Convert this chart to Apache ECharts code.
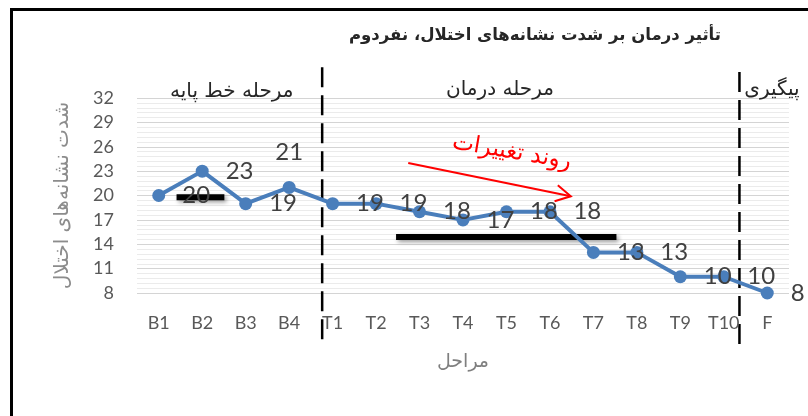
<!DOCTYPE html>
<html>
<head>
<meta charset="utf-8">
<script src="https://cdn.jsdelivr.net/npm/echarts@6/dist/echarts.min.js"></script>
<style>
  html, body { margin: 0; padding: 0; background: #fff; }
  #chart { width: 808px; height: 416px; }
</style>
</head>
<body>
<div id="chart"></div>
<script>
const stages = ['B1', 'B2', 'B3', 'B4', 'T1', 'T2', 'T3', 'T4', 'T5', 'T6', 'T7', 'T8', 'T9', 'T10', 'F'];
const severity = [20, 23, 19, 21, 19, 19, 18, 17, 18, 18, 13, 13, 10, 10, 8];
const yMin = 8;
const yMax = 32;
const yStep = 3;

const titleText = 'تأثیر درمان بر شدت نشانه‌های اختلال، نفردوم';
const yName = 'شدت نشانه‌های اختلال';
const xName = 'مراحل';
const phaseNames = ['مرحله خط پایه', 'مرحله درمان', 'پیگیری'];
const trendText = 'روند تغییرات';

// annotations in (category index, value) units
const phaseLabelAt = [[1.68, 32.8], [7.85, 33.0], [13.47, 33.0]];
const phaseDividers = [[3.76, 35.8, 2.0], [13.36, 35.2, 1.35]];
const baselineBar = [[0.41, 19.8], [1.51, 19.8]];
const treatmentBar = [[5.46, 14.9], [10.53, 14.9]];
const trendArrow = [[5.74, 24.0], [9.48, 19.9]];
const trendTextAt = [8.12, 25.3];

const option = {
  backgroundColor: '#fff',
  animation: false,
  grid: {
    left: 137,
    right: 19,
    top: 98,
    bottom: 123
  },
  xAxis: [
    {
      type: 'category',
      data: stages,
      boundaryGap: true,
      axisLine: { show: false },
      axisTick: { show: false },
      axisLabel: {
        fontSize: 18,
        color: '#595959',
        fontFamily: 'Lato',
        margin: 21
      },
      name: xName,
      nameLocation: 'middle',
      nameGap: 60,
      nameTextStyle: {
        fontSize: 19,
        color: '#7f7f7f',
        fontFamily: 'DejaVu Sans'
      }
    },
    {
      type: 'value',
      min: -0.5,
      max: 14.5,
      show: false
    }
  ],
  yAxis: {
    type: 'value',
    min: yMin,
    max: yMax,
    interval: yStep,
    axisLine: { show: false },
    axisTick: { show: false },
    axisLabel: {
      fontSize: 18,
      color: '#595959',
      fontFamily: 'Lato',
      margin: 23
    },
    splitLine: { lineStyle: { color: '#d4d4d4', width: 1 } },
    minorTick: { show: false, splitNumber: 5 },
    minorSplitLine: { show: true, lineStyle: { color: '#ebebeb', width: 1 } },
    name: yName,
    nameLocation: 'middle',
    nameGap: 64,
    nameTextStyle: {
      fontSize: 20,
      color: '#8c8c8c',
      fontFamily: 'DejaVu Sans'
    }
  },
  series: [
    {
      type: 'line',
      z: 2,
      data: severity.map((v, i) => i === 3 ? { value: v, label: { position: 'top' } } : v),
      symbol: 'circle',
      symbolSize: 13,
      lineStyle: { color: '#4a7ebb', width: 4 },
      itemStyle: { color: '#4a7ebb' },
      label: {
        show: true,
        position: 'right',
        distance: 17,
        fontSize: 24,
        color: '#404040',
        fontFamily: 'Lato'
      }
    }
  ]
};

const chart = echarts.init(document.getElementById('chart'));
chart.setOption(option);

const toPx = (p) => chart.convertToPixel({ xAxisIndex: 1, yAxisIndex: 0 }, p);

function barLine(pts) {
  const a = toPx(pts[0]);
  const b = toPx(pts[1]);
  return {
    type: 'line',
    shape: { x1: a[0], y1: a[1], x2: b[0], y2: b[1] },
    style: {
      stroke: '#000',
      lineWidth: 6,
      shadowBlur: 4,
      shadowColor: 'rgba(0,0,0,0.4)',
      shadowOffsetX: 2,
      shadowOffsetY: 2
    }
  };
}

const graphics = [];

// frame
graphics.push({
  type: 'rect',
  shape: { x: 11.5, y: 9.5, width: 900, height: 600 },
  style: { fill: null, stroke: '#000', lineWidth: 3 }
});

graphics.push({
  type: 'text',
  x: 535,
  y: 36,
  style: {
    text: titleText,
    align: 'center',
    verticalAlign: 'middle',
    font: 'bold 16.5px "DejaVu Sans"',
    fill: '#262626'
  }
});

phaseNames.forEach((name, i) => {
  const p = toPx(phaseLabelAt[i]);
  graphics.push({
    type: 'text',
    x: p[0],
    y: p[1],
    style: {
      text: name,
      align: i === 2 ? 'left' : 'center',
      verticalAlign: 'middle',
      font: '20px "DejaVu Sans"',
      fill: '#262626'
    }
  });
});

phaseDividers.forEach((d) => {
  const a = toPx([d[0], d[1]]);
  const b = toPx([d[0], d[2]]);
  graphics.push({
    type: 'line',
    shape: { x1: a[0], y1: a[1], x2: b[0], y2: b[1] },
    style: { stroke: '#000', lineWidth: 2.5, lineDash: [20, 8] }
  });
});

graphics.push(barLine(baselineBar));
graphics.push(barLine(treatmentBar));

// trend arrow
const s = toPx(trendArrow[0]);
const e = toPx(trendArrow[1]);
const ang = Math.atan2(e[1] - s[1], e[0] - s[0]);
const head = 17;
const spread = 0.5;
graphics.push({
  type: 'line',
  shape: { x1: s[0], y1: s[1], x2: e[0], y2: e[1] },
  style: { stroke: '#ff0000', lineWidth: 2 }
});
graphics.push({
  type: 'polyline',
  shape: {
    points: [
      [e[0] - head * Math.cos(ang - spread), e[1] - head * Math.sin(ang - spread)],
      e,
      [e[0] - head * Math.cos(ang + spread), e[1] - head * Math.sin(ang + spread)]
    ]
  },
  style: { stroke: '#ff0000', lineWidth: 2, fill: null }
});

const tp = toPx(trendTextAt);
graphics.push({
  type: 'text',
  x: tp[0],
  y: tp[1],
  rotation: -0.17,
  style: {
    text: trendText,
    align: 'center',
    verticalAlign: 'middle',
    font: '23px "DejaVu Sans"',
    fill: '#ff0000'
  }
});

chart.setOption({ graphic: graphics });
</script>
</body>
</html>
